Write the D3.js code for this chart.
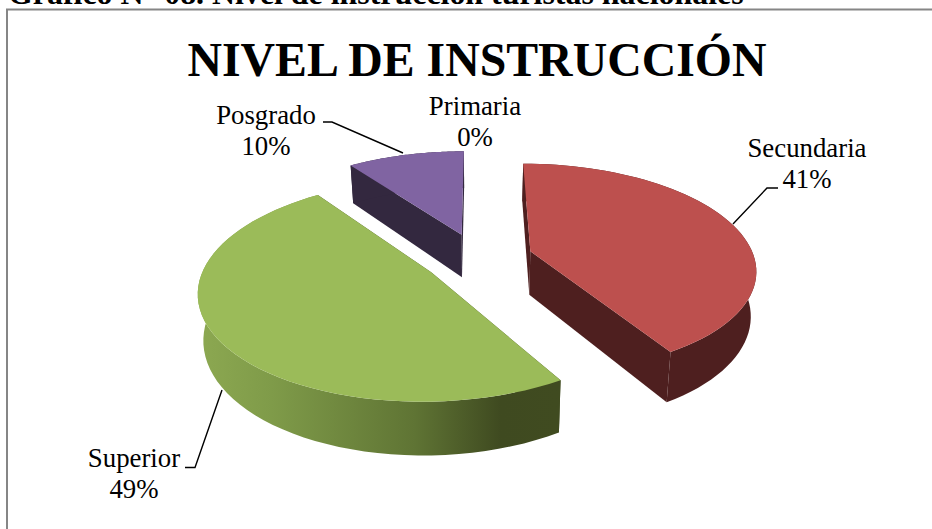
<!DOCTYPE html>
<html>
<head>
  <meta charset="utf-8">
  <script src="https://d3js.org/d3.v7.min.js"></script>
  <style>
    html, body { margin: 0; padding: 0; background: #fff; overflow: hidden; }
    text { font-family: "Liberation Serif", serif; fill: #000; }
  </style>
</head>
<body>
  <script>
    var categories = ["Primaria", "Secundaria", "Superior", "Posgrado"];
    var values = [0, 41.4, 48.6, 10];
    var topColors = ["#4f81bd", "#bd504e", "#9bbb59", "#8064a2"];
    var sideColors = ["#27405e", "#4e1f1f", "url(#greenSide)", "#33283f"];

    var width = 932, height = 529;

    // tilted pie: radii, perspective strength, how far slices are pulled out
    var ox = 478, oy = 258, rx = 224, ry = 103.6, persp = 0.16;
    var explode = 0.245, depth = 44, bottomShrink = 0.98;

    var svg = d3.select("body").append("svg")
      .attr("width", width)
      .attr("height", height)
      .style("display", "block");

    var grad = svg.append("defs").append("linearGradient")
      .attr("id", "greenSide")
      .attr("gradientUnits", "userSpaceOnUse")
      .attr("x1", 200).attr("y1", 0)
      .attr("x2", 558).attr("y2", 0);
    [[0, "#8ca851"], [0.2, "#7f9b49"], [0.6, "#5f7434"], [0.84, "#3f4a20"], [1, "#404b20"]].forEach(function (s) {
      grad.append("stop").attr("offset", s[0]).attr("stop-color", s[1]);
    });

    // frame
    svg.append("path")
      .attr("d", "M7,529V9.5H932")
      .attr("fill", "none")
      .attr("stroke", "#868686")
      .attr("stroke-width", 2);

    svg.append("text")
      .attr("x", 8).attr("y", 4)
      .attr("font-size", 31.9).attr("font-weight", "bold")
      .text("Gráfico N° 08. Nivel de instrucción turistas nacionales");

    svg.append("text")
      .attr("x", 477).attr("y", 76)
      .attr("text-anchor", "middle")
      .attr("font-size", 47.8).attr("font-weight", "bold")
      .text("NIVEL DE INSTRUCCIÓN");

    var pie = d3.pie().sort(null)(values);

    function project(u, v, down) {
      var w = 1 + persp * v;
      var k = down ? bottomShrink : 1;
      return [ox + k * rx * u / w, oy - ry * v / w + (down ? depth / w : 0)];
    }

    // point on a slice at angle a, radius r (unit pie), with the explosion added
    function slicePoint(d, a, r, down) {
      var mid = (d.startAngle + d.endAngle) / 2;
      return project(
        explode * Math.sin(mid) + r * Math.sin(a),
        explode * Math.cos(mid) + r * Math.cos(a),
        down);
    }

    var line = d3.line();

    var order = [3, 1, 2];
    order.forEach(function (i) {
      var d = pie[i];
      var steps = d3.range(0, 61).map(function (t) {
        return d.startAngle + (d.endAngle - d.startAngle) * t / 60;
      });
      var g = svg.append("g").attr("class", "slice");

      // cut faces
      [d.startAngle, d.endAngle].forEach(function (a) {
        g.append("path")
          .attr("d", line([
            slicePoint(d, a, 0, false), slicePoint(d, a, 1, false),
            slicePoint(d, a, 1, true), slicePoint(d, a, 0, true)
          ]) + "Z")
          .attr("fill", i === 2 ? "#404b20" : sideColors[i]);
      });

      // outer wall
      var topArc = steps.map(function (a) { return slicePoint(d, a, 1, false); });
      var botArc = steps.map(function (a) { return slicePoint(d, a, 1, true); }).reverse();
      g.append("path")
        .attr("d", line(topArc.concat(botArc)) + "Z")
        .attr("fill", sideColors[i]);

      // top face
      g.append("path")
        .attr("d", line([slicePoint(d, 0, 0, false)].concat(topArc)) + "Z")
        .attr("fill", topColors[i]);
    });

    // labels, leader goes: text side, elbow, point on the rim
    var labelLayout = [
      { x: 475, y: 115, leader: null },
      { x: 807, y: 157, leader: [[778, 188], [767, 188], [733, 224]] },
      { x: 134, y: 467, leader: [[185, 467.5], [195, 467.5], [222, 390]] },
      { x: 266, y: 124, leader: [[323, 122], [332, 122], [403, 153]] }
    ];

    var total = d3.sum(values);
    var pct = d3.format(".0%");
    categories.forEach(function (c, i) {
      var l = labelLayout[i];
      var t = svg.append("text")
        .attr("text-anchor", "middle")
        .attr("font-size", 26.8);
      t.append("tspan").attr("x", l.x).attr("y", l.y).text(c);
      t.append("tspan").attr("x", l.x).attr("y", l.y + 31).text(pct(values[i] / total));
      if (l.leader) {
        svg.append("path")
          .attr("d", line(l.leader))
          .attr("fill", "none")
          .attr("stroke", "#000")
          .attr("stroke-width", 1.4);
      }
    });
  </script>
</body>
</html>
